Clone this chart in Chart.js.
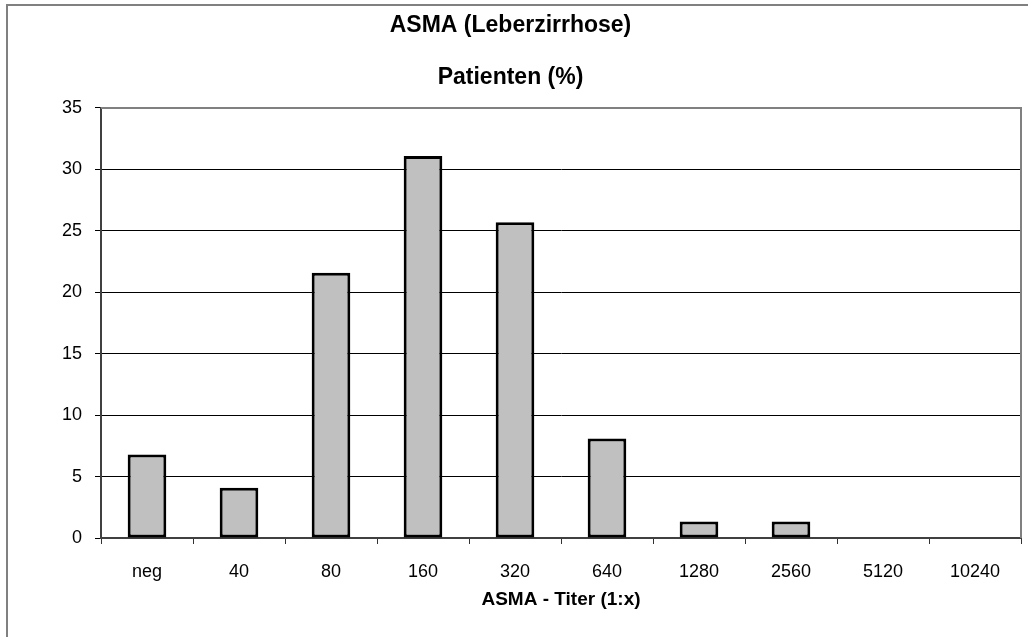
<!DOCTYPE html>
<html>
<head>
<meta charset="utf-8">
<title>ASMA (Leberzirrhose)</title>
<script src="https://cdn.jsdelivr.net/npm/chart.js@4/dist/chart.umd.min.js"></script>
<style>
  html, body { margin: 0; padding: 0; background: #fff; }
  canvas { display: block; }
</style>
</head>
<body>
<canvas id="myChart" width="1028" height="637"></canvas>
<script>
// titer steps and share of patients (%)
const titers = ['neg', '40', '80', '160', '320', '640', '1280', '2560', '5120', '10240'];
const patients = [6.8, 4.1, 21.6, 31.1, 25.7, 8.1, 1.35, 1.35, 0, 0];
const yMin = 0;
const yMax = 35;
const yStep = 5;

const font = "'Liberation Sans', Arial, sans-serif";

// grey frames: outer chart border (left/top) and plot area border (top/right)
const frames = {
  id: 'frames',
  afterDraw(chart) {
    const { ctx, chartArea } = chart;
    ctx.save();
    ctx.strokeStyle = '#808080';
    ctx.lineWidth = 2;
    ctx.beginPath();
    ctx.moveTo(7, 637);
    ctx.lineTo(7, 5);
    ctx.lineTo(1028, 5);
    ctx.stroke();
    ctx.beginPath();
    ctx.moveTo(chartArea.left, chartArea.top);
    ctx.lineTo(chartArea.right, chartArea.top);
    ctx.lineTo(chartArea.right, chartArea.bottom);
    ctx.stroke();
    ctx.restore();
  }
};

const ctx = document.getElementById('myChart').getContext('2d');
const myChart = new Chart(ctx, {
  type: 'bar',
  data: {
    labels: titers,
    datasets: [{
      label: 'Patienten (%)',
      data: patients,
      backgroundColor: '#c0c0c0',
      borderColor: '#000',
      borderWidth: 3,
      borderSkipped: false,
      barPercentage: 0.42,
      categoryPercentage: 1
    }]
  },
  options: {
    responsive: false,
    animation: false,
    layout: {
      padding: { left: 0, right: 7, top: 0, bottom: 0 }
    },
    plugins: {
      legend: { display: false },
      tooltip: { enabled: false },
      title: {
        display: true,
        text: 'ASMA (Leberzirrhose)',
        color: '#000',
        font: { family: font, size: 23, weight: 'bold' },
        padding: { top: 12, bottom: 12 }
      },
      subtitle: {
        display: true,
        text: 'Patienten (%)',
        color: '#000',
        font: { family: font, size: 23, weight: 'bold' },
        padding: { top: 12.6, bottom: 16.2 }
      }
    },
    scales: {
      x: {
        afterFit(scale) { scale.height = 99; },
        grid: {
          offset: true,
          drawOnChartArea: false,
          drawTicks: true,
          tickLength: 6,
          color: '#333',
          lineWidth: 1
        },
        border: { color: '#404040', width: 2 },
        ticks: {
          color: '#000',
          padding: 17,
          maxRotation: 0,
          font: { family: font, size: 18 }
        },
        title: {
          display: true,
          text: 'ASMA - Titer (1:x)',
          color: '#000',
          font: { family: font, size: 19, weight: 'bold' },
          padding: { top: 0, bottom: 25.6 }
        }
      },
      y: {
        min: yMin,
        max: yMax,
        afterFit(scale) { scale.width = 101; },
        grid: {
          color: '#000',
          lineWidth: 1,
          tickLength: 6
        },
        border: { color: '#404040', width: 2 },
        ticks: {
          stepSize: yStep,
          color: '#000',
          padding: 13,
          font: { family: font, size: 18 }
        }
      }
    }
  },
  plugins: [frames]
});
</script>
</body>
</html>
